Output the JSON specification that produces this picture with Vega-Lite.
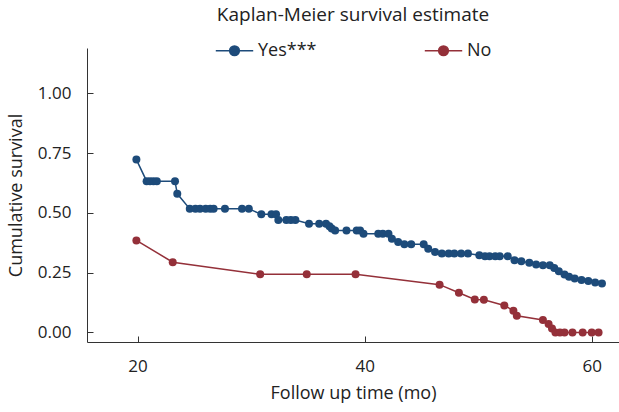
{
  "$schema": "https://vega.github.io/schema/vega-lite/v6.json",
  "width": 532,
  "height": 294,
  "autosize": {"type": "none"},
  "padding": {"left": 87, "top": 48, "right": 0, "bottom": 70},
  "background": "white",
  "config": {
    "font": "Open Sans",
    "view": {"stroke": null},
    "axis": {"grid": false, "domainColor": "#333333", "tickColor": "#333333", "labelColor": "#222222", "titleColor": "#222222", "labelFont": "Open Sans", "titleFont": "Open Sans", "titleFontWeight": "normal"}
  },
  "title": {"text": "Kaplan-Meier survival estimate", "anchor": "middle", "fontSize": 19, "fontWeight": "normal", "color": "#222222", "offset": 6},
  "data": {"values": [
    {"g": "Yes***", "t": 19.9, "s": 0.723},
    {"g": "Yes***", "t": 20.8, "s": 0.633},
    {"g": "Yes***", "t": 21.1, "s": 0.633},
    {"g": "Yes***", "t": 21.4, "s": 0.633},
    {"g": "Yes***", "t": 21.7, "s": 0.633},
    {"g": "Yes***", "t": 23.3, "s": 0.633},
    {"g": "Yes***", "t": 23.5, "s": 0.58},
    {"g": "Yes***", "t": 24.6, "s": 0.517},
    {"g": "Yes***", "t": 25.1, "s": 0.517},
    {"g": "Yes***", "t": 25.5, "s": 0.517},
    {"g": "Yes***", "t": 26.0, "s": 0.517},
    {"g": "Yes***", "t": 26.4, "s": 0.517},
    {"g": "Yes***", "t": 26.7, "s": 0.517},
    {"g": "Yes***", "t": 27.7, "s": 0.517},
    {"g": "Yes***", "t": 29.2, "s": 0.517},
    {"g": "Yes***", "t": 29.8, "s": 0.517},
    {"g": "Yes***", "t": 30.9, "s": 0.494},
    {"g": "Yes***", "t": 31.8, "s": 0.494},
    {"g": "Yes***", "t": 32.2, "s": 0.494},
    {"g": "Yes***", "t": 32.4, "s": 0.47},
    {"g": "Yes***", "t": 33.1, "s": 0.47},
    {"g": "Yes***", "t": 33.5, "s": 0.47},
    {"g": "Yes***", "t": 33.9, "s": 0.47},
    {"g": "Yes***", "t": 35.1, "s": 0.455},
    {"g": "Yes***", "t": 36.0, "s": 0.455},
    {"g": "Yes***", "t": 36.6, "s": 0.455},
    {"g": "Yes***", "t": 36.9, "s": 0.444},
    {"g": "Yes***", "t": 37.1, "s": 0.435},
    {"g": "Yes***", "t": 37.4, "s": 0.427},
    {"g": "Yes***", "t": 38.4, "s": 0.427},
    {"g": "Yes***", "t": 39.3, "s": 0.427},
    {"g": "Yes***", "t": 39.6, "s": 0.427},
    {"g": "Yes***", "t": 39.9, "s": 0.413},
    {"g": "Yes***", "t": 41.2, "s": 0.413},
    {"g": "Yes***", "t": 41.6, "s": 0.413},
    {"g": "Yes***", "t": 42.1, "s": 0.413},
    {"g": "Yes***", "t": 42.4, "s": 0.392},
    {"g": "Yes***", "t": 42.95, "s": 0.378},
    {"g": "Yes***", "t": 43.5, "s": 0.369},
    {"g": "Yes***", "t": 44.1, "s": 0.369},
    {"g": "Yes***", "t": 45.2, "s": 0.369},
    {"g": "Yes***", "t": 45.6, "s": 0.35},
    {"g": "Yes***", "t": 46.2, "s": 0.337},
    {"g": "Yes***", "t": 46.8, "s": 0.33},
    {"g": "Yes***", "t": 47.4, "s": 0.33},
    {"g": "Yes***", "t": 47.9, "s": 0.33},
    {"g": "Yes***", "t": 48.5, "s": 0.33},
    {"g": "Yes***", "t": 49.1, "s": 0.33},
    {"g": "Yes***", "t": 50.1, "s": 0.323},
    {"g": "Yes***", "t": 50.6, "s": 0.319},
    {"g": "Yes***", "t": 51.0, "s": 0.319},
    {"g": "Yes***", "t": 51.5, "s": 0.319},
    {"g": "Yes***", "t": 51.9, "s": 0.319},
    {"g": "Yes***", "t": 52.6, "s": 0.319},
    {"g": "Yes***", "t": 53.2, "s": 0.302},
    {"g": "Yes***", "t": 53.8, "s": 0.298},
    {"g": "Yes***", "t": 54.5, "s": 0.292},
    {"g": "Yes***", "t": 55.1, "s": 0.284},
    {"g": "Yes***", "t": 55.7, "s": 0.281},
    {"g": "Yes***", "t": 56.3, "s": 0.281},
    {"g": "Yes***", "t": 56.7, "s": 0.27},
    {"g": "Yes***", "t": 57.1, "s": 0.256},
    {"g": "Yes***", "t": 57.6, "s": 0.242},
    {"g": "Yes***", "t": 58.0, "s": 0.233},
    {"g": "Yes***", "t": 58.5, "s": 0.226},
    {"g": "Yes***", "t": 59.1, "s": 0.219},
    {"g": "Yes***", "t": 59.7, "s": 0.215},
    {"g": "Yes***", "t": 60.3, "s": 0.209},
    {"g": "Yes***", "t": 60.9, "s": 0.205},
    {"g": "No", "t": 19.9, "s": 0.385},
    {"g": "No", "t": 23.1, "s": 0.294},
    {"g": "No", "t": 30.8, "s": 0.243},
    {"g": "No", "t": 34.9, "s": 0.243},
    {"g": "No", "t": 39.2, "s": 0.243},
    {"g": "No", "t": 46.6, "s": 0.2},
    {"g": "No", "t": 48.3, "s": 0.166},
    {"g": "No", "t": 49.7, "s": 0.138},
    {"g": "No", "t": 50.5, "s": 0.137},
    {"g": "No", "t": 52.3, "s": 0.113},
    {"g": "No", "t": 53.1, "s": 0.091},
    {"g": "No", "t": 53.4, "s": 0.07},
    {"g": "No", "t": 55.7, "s": 0.052},
    {"g": "No", "t": 56.2, "s": 0.035},
    {"g": "No", "t": 56.5, "s": 0.017},
    {"g": "No", "t": 56.8, "s": 0.0},
    {"g": "No", "t": 57.2, "s": 0.0},
    {"g": "No", "t": 57.6, "s": 0.0},
    {"g": "No", "t": 58.3, "s": 0.0},
    {"g": "No", "t": 59.2, "s": 0.0},
    {"g": "No", "t": 60.0, "s": 0.0},
    {"g": "No", "t": 60.6, "s": 0.0}
  ]},
  "mark": {"type": "line", "strokeWidth": 1.5, "point": {"filled": true, "size": 64, "opacity": 1}},
  "encoding": {
    "x": {"field": "t", "type": "quantitative", "scale": {"domain": [15.55, 62.4], "nice": false, "zero": false},
      "axis": {"values": [20, 40, 60], "title": "Follow up time (mo)", "titleFontSize": 18, "labelFontSize": 17, "tickSize": -6, "labelPadding": 22, "titlePadding": 10, "labelFlush": false}},
    "y": {"field": "s", "type": "quantitative", "scale": {"domain": [-0.04, 1.19], "nice": false, "zero": false},
      "axis": {"values": [0, 0.25, 0.5, 0.75, 1], "format": ".2f", "title": "Cumulative survival", "titleFontSize": 18, "labelFontSize": 17, "tickSize": -6, "labelPadding": 22, "titlePadding": 12}},
    "color": {"field": "g", "type": "nominal", "sort": ["Yes***", "No"],
      "scale": {"domain": ["Yes***", "No"], "range": ["#1d4b7a", "#943039"]},
      "legend": {"title": null, "orient": "none", "direction": "horizontal", "legendX": 128, "legendY": -17,
        "symbolType": "M-1,0H1M0.26,0A0.26,0.26,0,1,1,-0.26,0A0.26,0.26,0,1,1,0.26,0Z",
        "symbolSize": 1400, "symbolStrokeWidth": 1.5, "labelFontSize": 18, "labelColor": "#222222", "columnPadding": 104, "labelOffset": 4}
    }
  }
}
